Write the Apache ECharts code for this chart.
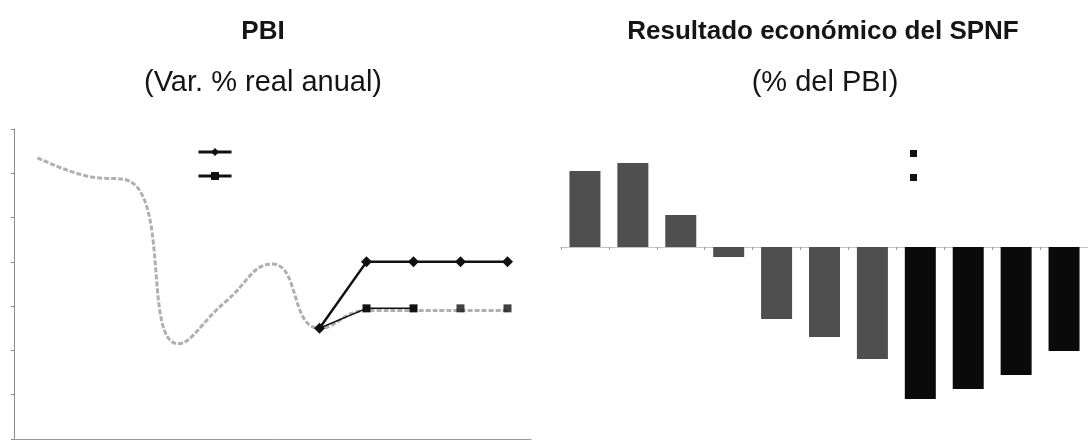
<!DOCTYPE html>
<html>
<head>
<meta charset="utf-8">
<script src="https://cdn.jsdelivr.net/npm/echarts@6/dist/echarts.min.js"></script>
<style>
html,body{margin:0;padding:0;background:#fff;}
#c{width:1088px;height:440px;}
</style>
</head>
<body>
<div id="c"></div>
<script>
// ---- data ----
var years = ['2006','2007','2008','2009','2010','2011','2012','2013','2014','2015','2016'];
var pbiBase = [8.7, 7.9, 7.6, 0.3, 2.2, 3.9, 1.0, 1.8, 1.8, 1.8, 1.8];
var pbiAlto = [null, null, null, null, null, null, 1.0, 4.0, 4.0, 4.0, 4.0];
var pbiBajo = [null, null, null, null, null, null, 1.0, 1.9, 1.9, null, null];
var pbiBajoPuntos = [null, null, null, null, null, null, null, null, null, 1.9, 1.9];
var spnfEjecutado = [1.9, 2.1, 0.8, -0.25, -1.8, -2.25, -2.8, null, null, null, null];
var spnfProyectado = [null, null, null, null, null, null, null, -3.8, -3.55, -3.2, -2.6];

var chart = echarts.init(document.getElementById('c'), null, {renderer:'canvas'});
var FF = 'Liberation Sans, Arial, sans-serif';

var option = {
  backgroundColor: '#ffffff',
  animation: false,
  graphic: [
    {type:'text', x:263, y:19, style:{text:'PBI', textAlign:'center', textVerticalAlign:'top', fontSize:26, fontWeight:'bold', fontFamily:FF, fill:'#151515'}},
    {type:'text', x:263, y:68, style:{text:'(Var. % real anual)', textAlign:'center', textVerticalAlign:'top', fontSize:29, fontFamily:FF, fill:'#151515'}},
    {type:'text', x:823, y:19, style:{text:'Resultado económico del SPNF', textAlign:'center', textVerticalAlign:'top', fontSize:26, fontWeight:'bold', fontFamily:FF, fill:'#151515'}},
    {type:'text', x:825, y:68, style:{text:'(% del PBI)', textAlign:'center', textVerticalAlign:'top', fontSize:29, fontFamily:FF, fill:'#151515'}}
  ],
  legend: [
    {
      data: ['Escenario alto', 'Escenario bajo'],
      orient: 'vertical', left: 197, top: 147, padding: 0,
      itemWidth: 33, itemHeight: 10, itemGap: 15,
      lineStyle: {width: 3},
      formatter: function(){ return ''; },
      textStyle: {fontSize: 1},
      selectedMode: false
    },
    {
      data: [{name:'Ejecutado', itemStyle:{color:'#111'}}, {name:'Proyectado', itemStyle:{color:'#111'}}],
      orient: 'vertical', left: 910, top: 150, padding: 0,
      itemWidth: 7, itemHeight: 7, itemGap: 17, icon: 'rect',
      formatter: function(){ return ''; },
      textStyle: {fontSize: 1},
      selectedMode: false
    }
  ],
  grid: [
    {left: 14, top: 129, width: 517, height: 310},
    {left: 561, top: 127, width: 530, height: 300}
  ],
  xAxis: [
    {type:'category', gridIndex:0, data: years, boundaryGap: true,
     axisLine:{onZero:false, lineStyle:{color:'#9a9a9a', width:1}},
     axisTick:{show:false}, axisLabel:{show:false}, splitLine:{show:false}},
    {type:'category', gridIndex:1, data: years, boundaryGap: true,
     axisLine:{onZero:true, lineStyle:{color:'#c4c4c4', width:1}},
     axisTick:{show:true, length:3, lineStyle:{color:'#9a9a9a'}}, axisLabel:{show:false}, splitLine:{show:false}}
  ],
  yAxis: [
    {type:'value', gridIndex:0, min:-4, max:10, interval:2,
     axisLine:{show:true, lineStyle:{color:'#8a8a8a', width:1}},
     axisTick:{show:true, length:3, lineStyle:{color:'#8a8a8a'}},
     axisLabel:{show:false}, splitLine:{show:false}},
    {type:'value', gridIndex:1, min:-4.5, max:3, show:false, splitLine:{show:false}}
  ],
  series: [
    {name:'Base', type:'line', xAxisIndex:0, yAxisIndex:0, data: pbiBase, smooth: 0.5,
     symbol:'none', lineStyle:{color:'#b0b0b0', width:3, type:[5,2]}, z:1},
    {name:'Escenario alto', type:'line', xAxisIndex:0, yAxisIndex:0, data: pbiAlto,
     symbol:'diamond', symbolSize:11, connectNulls:false,
     lineStyle:{color:'#111', width:2.5}, itemStyle:{color:'#111'}, z:3},
    {name:'Escenario bajo', type:'line', xAxisIndex:0, yAxisIndex:0,
     data: pbiBajo.map(function(v,i){ return (i===6) ? {value:v, symbol:'none'} : v; }),
     symbol:'rect', symbolSize:8,
     lineStyle:{color:'#111', width:1.5}, itemStyle:{color:'#111'}, z:2},
    {name:'Escenario bajo pts', type:'scatter', xAxisIndex:0, yAxisIndex:0, data: pbiBajoPuntos,
     symbol:'rect', symbolSize:8, itemStyle:{color:'#111'}, z:2},
    {name:'Ejecutado', type:'bar', xAxisIndex:1, yAxisIndex:1, data: spnfEjecutado,
     stack:'r', barWidth:31, itemStyle:{color:'#4f4f4f'}},
    {name:'Proyectado', type:'bar', xAxisIndex:1, yAxisIndex:1, data: spnfProyectado,
     stack:'r', barWidth:31, itemStyle:{color:'#0a0a0a'}}
  ]
};
chart.setOption(option);
</script>
</body>
</html>
